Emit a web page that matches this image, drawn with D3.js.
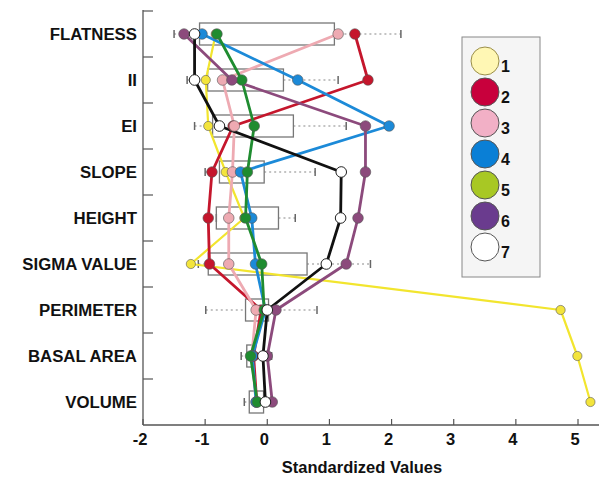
<!DOCTYPE html>
<html>
<head>
<meta charset="utf-8">
<script src="https://cdn.jsdelivr.net/npm/d3@7"></script>
<style>
  body { margin: 0; background: #fff; }
  text { font-family: "Liberation Sans", Arial, sans-serif; font-weight: bold; fill: #111; }
</style>
</head>
<body>
<script>
// categories, top to bottom
var categories = ["FLATNESS", "II", "EI", "SLOPE", "HEIGHT", "SIGMA VALUE", "PERIMETER", "BASAL AREA", "VOLUME"];
var xTicks = [-2, -1, 0, 1, 2, 3, 4, 5];
var seriesNames = ["1", "2", "3", "4", "5", "6", "7"];

// standardized value of each series per category
var s1 = [-0.83, -0.99, -0.95, -0.67, -0.37, -1.23, 4.72, 4.99, 5.2];
var s2 = [1.41, 1.62, -0.55, -0.89, -0.95, -0.93, -0.1, -0.22, -0.17];
var s3 = [1.14, -0.72, -0.53, -0.56, -0.62, -0.62, -0.18, -0.25, -0.18];
var s4 = [-1.05, 0.49, 1.96, -0.43, -0.25, -0.19, -0.03, -0.24, -0.18];
var s5 = [-0.81, -0.41, -0.21, -0.32, -0.35, -0.09, -0.05, -0.27, -0.16];
var s6 = [-1.34, -0.57, 1.58, 1.58, 1.46, 1.27, 0.14, 0.0, 0.08];
var s7 = [-1.17, -1.17, -0.77, 1.19, 1.18, 0.95, 0.0, -0.07, -0.03];

// box plot per category: box edges and whisker ends
var boxLow = [-1.09, -0.96, -0.88, -0.77, -0.82, -0.95, -0.35, -0.33, -0.29];
var boxHigh = [1.08, 0.26, 0.42, -0.05, 0.18, 0.64, 0.02, -0.23, -0.06];
var whiskLow = [-1.5, -1.29, -1.17, -1.0, -0.82, -1.11, -0.99, -0.42, -0.37];
var whiskHigh = [2.15, 1.14, 1.27, 0.77, 0.45, 1.66, 0.80, 0.07, -0.06];

var allSeries = [s1, s2, s3, s4, s5, s6, s7];
var lineColors = ["#f2e52e", "#c5162c", "#eeaab2", "#1c8ad8", "#1f8c30", "#8c4a7c", "#111111"];
var dotColors = ["#f3e43c", "#c5162c", "#eeaab2", "#1c8ad8", "#1f8c30", "#8c4a7c", "#ffffff"];
var legendColors = ["#fff7b4", "#c8003c", "#f2b0c6", "#0a7fd6", "#a8c824", "#6a3b8e", "#ffffff"];

var W = 599, H = 479;
var svg = d3.select("body").append("svg")
    .attr("width", W)
    .attr("height", H);

var x = d3.scaleLinear().domain([-2, 5]).range([143, 578]);
var y = d3.scaleBand().domain(categories).range([11, 425]);
var cy = function (c) { return y(c) + y.bandwidth() / 2; };

// axes
svg.append("line")
    .attr("x1", 143).attr("x2", W).attr("y1", 425).attr("y2", 425)
    .attr("stroke", "#555").attr("stroke-width", 1.3);
svg.append("line")
    .attr("x1", 143).attr("x2", 143).attr("y1", 10).attr("y2", 425)
    .attr("stroke", "#555").attr("stroke-width", 1.3);

// y ticks at band edges, pointing inward
var edges = categories.map(function (c) { return y(c); });
svg.selectAll(".ytick")
    .data(edges)
    .enter().append("line")
    .attr("class", "ytick")
    .attr("x1", 143).attr("x2", 153)
    .attr("y1", function (d) { return d; })
    .attr("y2", function (d) { return d; })
    .attr("stroke", "#555").attr("stroke-width", 1.2);

svg.selectAll(".ylabel")
    .data(categories)
    .enter().append("text")
    .attr("class", "ylabel")
    .attr("x", 137)
    .attr("y", function (d) { return cy(d); })
    .attr("dy", "0.33em")
    .attr("text-anchor", "end")
    .style("font-size", "16.8px")
    .text(function (d) { return d; });

// x ticks
svg.selectAll(".xtick")
    .data(xTicks)
    .enter().append("line")
    .attr("class", "xtick")
    .attr("x1", function (d) { return x(d); })
    .attr("x2", function (d) { return x(d); })
    .attr("y1", 419).attr("y2", 425)
    .attr("stroke", "#555").attr("stroke-width", 1.2);

svg.selectAll(".xlabel")
    .data(xTicks)
    .enter().append("text")
    .attr("class", "xlabel")
    .attr("x", function (d) { return x(d) - 3; })
    .attr("y", 445)
    .attr("text-anchor", "middle")
    .style("font-size", "16.5px")
    .text(function (d) { return d; });

svg.append("text")
    .attr("x", 362)
    .attr("y", 473)
    .attr("text-anchor", "middle")
    .style("font-size", "16.5px")
    .text("Standardized Values");

// box plots
var boxH = 22;
var boxes = svg.append("g");
categories.forEach(function (c, i) {
    var yc = cy(c);
    boxes.append("line")
        .attr("x1", x(whiskLow[i])).attr("x2", x(boxLow[i]))
        .attr("y1", yc).attr("y2", yc)
        .attr("stroke", "#888").attr("stroke-width", 1.2)
        .attr("stroke-dasharray", "2,3");
    boxes.append("line")
        .attr("x1", x(boxHigh[i])).attr("x2", x(whiskHigh[i]))
        .attr("y1", yc).attr("y2", yc)
        .attr("stroke", "#888").attr("stroke-width", 1.2)
        .attr("stroke-dasharray", "2,3");
    [whiskLow[i], whiskHigh[i]].forEach(function (v) {
        boxes.append("line")
            .attr("x1", x(v)).attr("x2", x(v))
            .attr("y1", yc - 4).attr("y2", yc + 4)
            .attr("stroke", "#666").attr("stroke-width", 1.5);
    });
    boxes.append("rect")
        .attr("x", x(boxLow[i]))
        .attr("y", yc - boxH / 2)
        .attr("width", x(boxHigh[i]) - x(boxLow[i]))
        .attr("height", boxH)
        .attr("fill", "none")
        .attr("stroke", "#777")
        .attr("stroke-width", 1.3);
});

// lines
var line = d3.line()
    .x(function (d) { return x(d.v); })
    .y(function (d) { return cy(d.c); });

allSeries.forEach(function (s, k) {
    var pts = categories.map(function (c, i) { return {c: c, v: s[i]}; });
    svg.append("path")
        .attr("d", line(pts))
        .attr("fill", "none")
        .attr("stroke", lineColors[k])
        .attr("stroke-width", k === 0 ? 2.2 : 2.8)
        .attr("stroke-linejoin", "round");
});

// dots, series 1 at the bottom
allSeries.forEach(function (s, k) {
    svg.selectAll(".dot" + k)
        .data(categories.map(function (c, i) { return {c: c, v: s[i]}; }))
        .enter().append("circle")
        .attr("class", "dot" + k)
        .attr("cx", function (d) { return x(d.v); })
        .attr("cy", function (d) { return cy(d.c); })
        .attr("r", k === 0 ? 4.6 : 5.3)
        .attr("fill", dotColors[k])
        .attr("stroke", k === 6 ? "#222" : "#555")
        .attr("stroke-width", k === 6 ? 1 : 0.6);
});

// legend
var legend = svg.append("g");
legend.append("rect")
    .attr("x", 462).attr("y", 37)
    .attr("width", 78).attr("height", 240)
    .attr("fill", "#f5f5f5")
    .attr("stroke", "#888")
    .attr("stroke-width", 1);

var ly = d3.scalePoint().domain(seriesNames).range([61, 247]);
legend.selectAll(".lc")
    .data(seriesNames)
    .enter().append("circle")
    .attr("class", "lc")
    .attr("cx", 485)
    .attr("cy", function (d) { return ly(d); })
    .attr("r", 14)
    .attr("fill", function (d, i) { return legendColors[i]; })
    .attr("stroke", function (d, i) { return i === 0 ? "#9a8e4a" : "#555"; })
    .attr("stroke-width", 1);

legend.selectAll(".lt")
    .data(seriesNames)
    .enter().append("text")
    .attr("class", "lt")
    .attr("x", 501)
    .attr("y", function (d) { return ly(d) + 11; })
    .style("font-size", "16px")
    .text(function (d) { return d; });
</script>
</body>
</html>
